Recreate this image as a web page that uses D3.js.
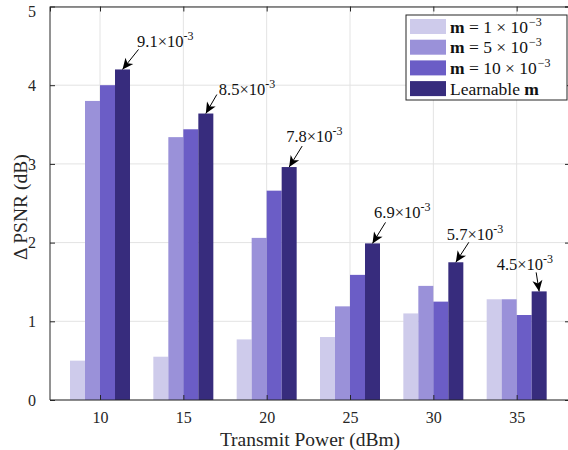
<!DOCTYPE html>
<html>
<head>
<meta charset="utf-8">
<script src="https://cdn.jsdelivr.net/npm/d3@7"></script>
<style>
  body { margin: 0; background: #fff; }
  svg { font-family: "Liberation Serif", "Times New Roman", serif; }
</style>
</head>
<body>
<script>
// transmit power (dBm) on x, gain in PSNR on y
const powers = [10, 15, 20, 25, 30, 35];
const seriesNames = ["m1", "m5", "m10", "learn"];
const m1 = [0.50, 0.55, 0.77, 0.80, 1.10, 1.28];
const m5 = [3.80, 3.34, 2.06, 1.19, 1.45, 1.28];
const m10 = [4.00, 3.44, 2.66, 1.59, 1.25, 1.08];
const learn = [4.20, 3.64, 2.96, 1.99, 1.75, 1.38];
// learned m values written above the last bar of each group (x10^-3)
const learnedM = ["9.1", "8.5", "7.8", "6.9", "5.7", "4.5"];
const yTicks = [0, 1, 2, 3, 4, 5];

const colors = ["#cecbeb", "#9a91d9", "#6b5dc6", "#372c7d"];

const margin = {top: 6.5, right: -2, bottom: 50, left: 50},
    W = 568, H = 450,
    width = W - margin.left - margin.right,
    height = H - margin.top - margin.bottom;

const svg = d3.select("body")
    .append("svg")
    .attr("width", W)
    .attr("height", H);

const g = svg.append("g")
    .attr("transform", `translate(${margin.left},${margin.top})`);

const x = d3.scaleLinear()
    .domain([7, 38.2])
    .range([0, width]);

const y = d3.scaleLinear()
    .domain([0, 5])
    .range([height, 0]);

// bars of a group span 3.6 dBm around the tick
const sub = d3.scaleBand()
    .domain(seriesNames)
    .range([-1.8, 1.8]);

const rows = powers.map((p, i) => ({
    p: p,
    vals: [m1[i], m5[i], m10[i], learn[i]],
    label: learnedM[i]
}));

// grid
g.append("g")
    .selectAll("line")
    .data(powers)
    .join("line")
    .attr("x1", d => x(d)).attr("x2", d => x(d))
    .attr("y1", 0).attr("y2", height)
    .attr("stroke", "#e3e3e3");
g.append("g")
    .selectAll("line")
    .data(yTicks)
    .join("line")
    .attr("x1", 0).attr("x2", width)
    .attr("y1", d => y(d)).attr("y2", d => y(d))
    .attr("stroke", "#e3e3e3");

// bars
const groups = g.selectAll(".grp")
    .data(rows)
    .join("g")
    .attr("class", "grp");

groups.selectAll("rect")
    .data(d => d.vals.map((v, k) => ({p: d.p, v: v, k: k})))
    .join("rect")
    .attr("x", d => x(d.p + sub(seriesNames[d.k])))
    .attr("width", d => x(d.p + sub.bandwidth()) - x(d.p))
    .attr("y", d => y(d.v))
    .attr("height", d => y(0) - y(d.v))
    .attr("fill", d => colors[d.k]);

// axes (MATLAB style box with inward ticks)
const axColor = "#262626";
const xAxis = g.append("g")
    .attr("transform", `translate(0,${height})`)
    .call(d3.axisBottom(x).tickValues(powers).tickSize(-5).tickPadding(12));
const xTop = g.append("g")
    .call(d3.axisTop(x).tickValues(powers).tickSize(-5).tickFormat(""));
const yAxis = g.append("g")
    .call(d3.axisLeft(y).tickValues(yTicks).tickFormat(d3.format("d")).tickSize(-5).tickPadding(14));
const yRight = g.append("g")
    .attr("transform", `translate(${width},0)`)
    .call(d3.axisRight(y).tickValues(yTicks).tickSize(-5).tickFormat(""));

[xAxis, xTop, yAxis, yRight].forEach(a => {
    a.attr("font-family", null);
    a.select(".domain").attr("stroke", axColor).attr("stroke-width", 1);
    a.selectAll(".tick line").attr("stroke", axColor);
    a.selectAll("text")
        .attr("fill", axColor)
        .style("font-family", "'Liberation Serif', serif")
        .style("font-size", "16px");
});
xAxis.selectAll(".domain").attr("d", `M0,0H${width}`);
yAxis.selectAll(".domain").attr("d", `M0,${height}V0`);
// top label sits a little lower so it stays inside the figure
yAxis.selectAll(".tick text").filter(d => d === 5).attr("dy", "0.62em");

// axis labels
svg.append("text")
    .attr("x", margin.left + x(22.6))
    .attr("y", 446)
    .attr("text-anchor", "middle")
    .attr("fill", axColor)
    .style("font-size", "19.5px")
    .text("Transmit Power (dBm)");

svg.append("text")
    .attr("transform", `translate(27,${margin.top + y(2.45)}) rotate(-90)`)
    .attr("text-anchor", "middle")
    .attr("fill", axColor)
    .style("font-size", "19.5px")
    .text("\u0394 PSNR (dB)");

// annotations with arrows
svg.append("defs").append("marker")
    .attr("id", "head")
    .attr("markerUnits", "userSpaceOnUse")
    .attr("viewBox", "-12 -6 14 12")
    .attr("markerWidth", 14)
    .attr("markerHeight", 12)
    .attr("refX", 0).attr("refY", 0)
    .attr("orient", "auto")
    .append("path")
    .attr("d", "M0,0L-11,-5L-8,0L-11,5Z")
    .attr("fill", "#000");

// tail offset and text offset from the arrow tip, in px
const annLayout = [
    {tx: 16, ty: -20, lx: 14.5, ly: -22},
    {tx: 11, ty: -19, lx: 13, ly: -19},
    {tx: 13, ty: -21, lx: -3, ly: -25},
    {tx: 13, ty: -21, lx: 1.5, ly: -25},
    {tx: 13, ty: -20, lx: -9, ly: -22},
    {tx: -3, ty: -19, lx: -42.5, ly: -21}
];

const ann = g.selectAll(".ann")
    .data(rows)
    .join("g")
    .attr("class", "ann")
    .attr("transform", d => {
        const cx = x(d.p + sub("learn")) + (x(d.p + sub.bandwidth()) - x(d.p)) / 2;
        return `translate(${cx},${y(d.vals[3])})`;
    });

ann.append("line")
    .attr("x1", (d, i) => annLayout[i].tx)
    .attr("y1", (d, i) => annLayout[i].ty)
    .attr("x2", 0).attr("y2", 0)
    .attr("stroke", "#000")
    .attr("stroke-width", 1)
    .attr("marker-end", "url(#head)");

const annText = ann.append("text")
    .attr("x", (d, i) => annLayout[i].lx)
    .attr("y", (d, i) => annLayout[i].ly)
    .attr("fill", "#111")
    .style("font-size", "16.5px");
annText.append("tspan").text(d => d.label + "\u00d710");
annText.append("tspan")
    .attr("dy", -7)
    .style("font-size", "12px")
    .text("-3");

// legend
const legendLabels = [
    ["m", " = 1 \u00d7 10", "\u22123"],
    ["m", " = 5 \u00d7 10", "\u22123"],
    ["m", " = 10 \u00d7 10", "\u22123"],
    ["Learnable ", "m", ""]
];

const lg = svg.append("g")
    .attr("transform", "translate(406,15)");
lg.append("rect")
    .attr("width", 161)
    .attr("height", 85)
    .attr("fill", "#fff")
    .attr("stroke", axColor)
    .attr("stroke-width", 1);

const item = lg.selectAll(".item")
    .data(seriesNames)
    .join("g")
    .attr("class", "item")
    .attr("transform", (d, i) => `translate(4,${4 + i * 20.7})`);

item.append("rect")
    .attr("width", 36)
    .attr("height", 15)
    .attr("fill", (d, i) => colors[i]);

const it = item.append("text")
    .attr("x", 40)
    .attr("y", 13.5)
    .attr("fill", "#111")
    .style("font-size", "17.5px");
it.each(function(d, i) {
    const t = d3.select(this);
    const lab = legendLabels[i];
    if (i < 3) {
        t.append("tspan").style("font-weight", "bold").text(lab[0]);
        t.append("tspan").text(lab[1]);
        t.append("tspan").attr("dx", 1).attr("dy", -7).style("font-size", "12px").text(lab[2]);
    } else {
        t.append("tspan").text(lab[0]);
        t.append("tspan").style("font-weight", "bold").text(lab[1]);
    }
});
</script>
</body>
</html>
